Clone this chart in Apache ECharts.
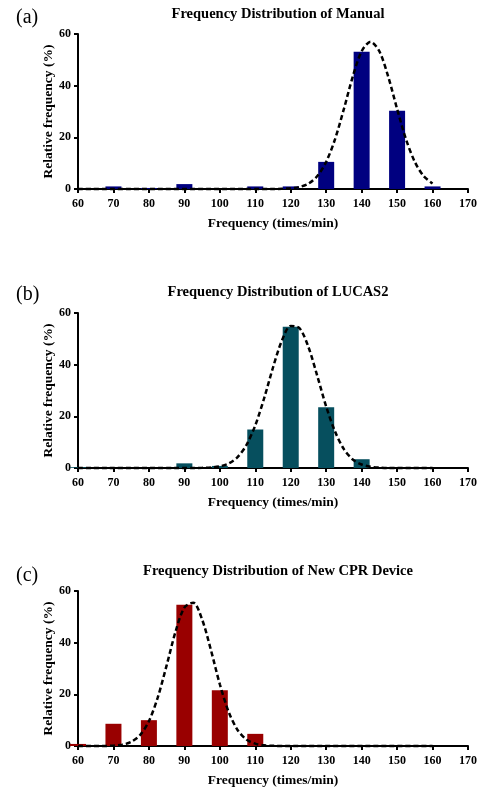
<!DOCTYPE html>
<html>
<head>
<meta charset="utf-8">
<script src="https://cdn.jsdelivr.net/npm/echarts@6/dist/echarts.min.js"></script>
<style>
  html, body { margin: 0; padding: 0; background: #fff; }
  #chart { width: 480px; height: 791px; }
</style>
</head>
<body>
<div id="chart"></div>
<script>
// bin centres (times/min)
const binCenters = [60, 70, 80, 90, 100, 110, 120, 130, 140, 150, 160];

// relative frequency (%) per bin
const manualPct = [0, 1.0, 0.4, 1.9, 0, 1.0, 1.0, 10.5, 53.1, 30.3, 1.0];
const lucasPct = [0.3, 0, 0, 1.8, 0.8, 14.9, 54.7, 23.5, 3.4, 0, 0];
const newDevicePct = [0.8, 8.6, 10.0, 54.7, 21.6, 4.7, 0, 0, 0, 0, 0];

// fitted curves (dashed)
const manualFitX = [60, 115, 117.5, 120, 122.5, 125, 127.5, 130, 132.5, 135, 137.5, 140, 142.5, 145, 147.5, 150, 152.5, 155, 157.5, 160];
const manualFitY = [0, 0, 0.1, 0.25, 0.8, 2.1, 5.0, 10.5, 19.3, 31.0, 43.5, 53.3, 57.0, 53.3, 43.5, 31.0, 19.3, 10.5, 5.0, 2.1];

const lucasFitX = [60, 92.5, 95, 97.5, 100, 102.5, 105, 107.5, 110, 112.5, 115, 117.5, 120, 122.5, 125, 127.5, 130, 132.5, 135, 137.5, 140, 142.5, 145, 147.5, 160];
const lucasFitY = [0, 0, 0.06, 0.2, 0.64, 1.75, 4.2, 8.9, 16.5, 27.0, 38.9, 49.3, 55.0, 54.1, 46.8, 35.6, 23.8, 14.1, 7.3, 3.3, 1.35, 0.5, 0.15, 0, 0];

const newDeviceFitX = [60, 67.5, 70, 72.5, 75, 77.5, 80, 82.5, 85, 87.5, 90, 92.5, 95, 97.5, 100, 102.5, 105, 107.5, 110, 112.5, 115, 160];
const newDeviceFitY = [0, 0, 0.14, 0.5, 1.6, 4.2, 9.6, 18.8, 31.2, 44.2, 53.6, 55.5, 49.0, 37.1, 23.9, 13.2, 6.2, 2.5, 0.9, 0.26, 0.05, 0];

const panelTitles = ['Frequency Distribution of Manual', 'Frequency Distribution of LUCAS2', 'Frequency Distribution of New CPR Device'];
const panelTags = ['(a)', '(b)', '(c)'];
const barColors = ['#000080', '#064f5e', '#990000'];

const font = 'Liberation Serif';
const gridTops = [34, 313, 591];
const gridHeight = 155;

function pairs(xs, ys) {
  return xs.map((x, i) => [x, ys[i]]);
}

const barSets = [manualPct, lucasPct, newDevicePct];
const fitSets = [[manualFitX, manualFitY], [lucasFitX, lucasFitY], [newDeviceFitX, newDeviceFitY]];

const titleTops = [2, 280, 559];
const tagTops = [3, 280, 561];

const option = {
  animation: false,
  backgroundColor: '#fff',
  title: [],
  grid: [],
  xAxis: [],
  yAxis: [],
  series: []
};

for (let i = 0; i < 3; i++) {
  option.title.push({
    text: panelTitles[i],
    left: 273,
    textAlign: 'center',
    top: titleTops[i],
    textStyle: { fontFamily: font, fontWeight: 'bold', fontSize: 14.5, color: '#000' }
  });
  option.title.push({
    text: panelTags[i],
    left: 11,
    top: tagTops[i],
    textStyle: { fontFamily: font, fontWeight: 'normal', fontSize: 20, color: '#000' }
  });
  option.grid.push({ left: 78, width: 390, top: gridTops[i], height: gridHeight });
  option.xAxis.push({
    type: 'value',
    gridIndex: i,
    min: 60, max: 170, interval: 10,
    name: 'Frequency (times/min)',
    nameLocation: 'middle',
    nameGap: 28,
    nameMoveOverlap: false,
    nameTextStyle: { fontFamily: font, fontWeight: 'bold', fontSize: 13.5, color: '#000' },
    axisLine: { lineStyle: { color: '#000', width: 2 } },
    axisTick: { length: 4, lineStyle: { color: '#000', width: 2 } },
    axisLabel: { fontFamily: font, fontWeight: 'bold', fontSize: 12, color: '#000', margin: 9 },
    splitLine: { show: false }
  });
  option.yAxis.push({
    type: 'value',
    gridIndex: i,
    min: 0, max: 60, interval: 20,
    name: 'Relative frequency (%)',
    nameLocation: 'middle',
    nameGap: 22,
    nameMoveOverlap: false,
    nameTextStyle: { fontFamily: font, fontWeight: 'bold', fontSize: 13.5, color: '#000' },
    axisLine: { show: true, lineStyle: { color: '#000', width: 2 } },
    axisTick: { show: true, length: 4, lineStyle: { color: '#000', width: 2 } },
    axisLabel: { fontFamily: font, fontWeight: 'bold', fontSize: 12, color: '#000', margin: 7 },
    splitLine: { show: false }
  });
  option.series.push({
    type: 'bar',
    xAxisIndex: i, yAxisIndex: i,
    barWidth: 16,
    clip: false,
    itemStyle: { color: barColors[i] },
    data: pairs(binCenters, barSets[i]),
    z: 2
  });
  option.series.push({
    type: 'line',
    xAxisIndex: i, yAxisIndex: i,
    smooth: 0.3,
    showSymbol: false,
    clip: false,
    lineStyle: { color: '#000', width: 2.5, type: [5, 3] },
    data: pairs(fitSets[i][0], fitSets[i][1]),
    z: 3
  });
}

const chart = echarts.init(document.getElementById('chart'));
chart.setOption(option);
</script>
</body>
</html>
